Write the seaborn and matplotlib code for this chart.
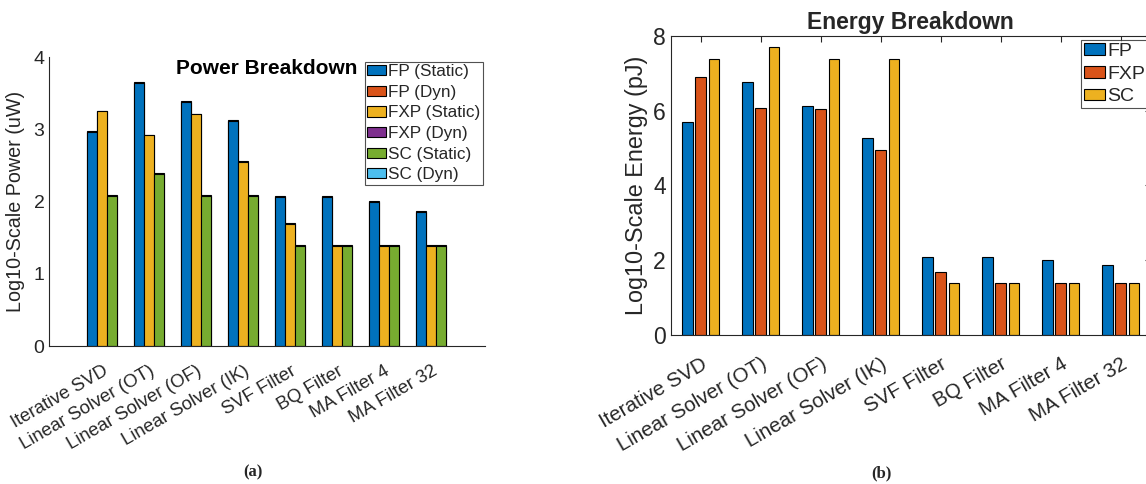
import matplotlib
matplotlib.use('Agg')
import matplotlib.pyplot as plt
from matplotlib.patches import Patch
import numpy as np
import pandas as pd
import seaborn as sns

benchmarks = ['Iterative SVD', 'Linear Solver (OT)', 'Linear Solver (OF)', 'Linear Solver (IK)',
              'SVF Filter', 'BQ Filter', 'MA Filter 4', 'MA Filter 32']
types = ['FP', 'FXP', 'SC']

# power (log10 uW), static part and the thin dynamic part stacked on top
fp_static = [2.97, 3.64, 3.38, 3.12, 2.07, 2.07, 1.99, 1.86]
fxp_static = [3.25, 2.92, 3.21, 2.55, 1.69, 1.39, 1.39, 1.39]
sc_static = [2.08, 2.38, 2.08, 2.08, 1.39, 1.39, 1.39, 1.39]
fp_dyn = [0.015, 0.015, 0.015, 0.015, 0.015, 0.015, 0.015, 0.015]
fxp_dyn = [0.01, 0.01, 0.01, 0.015, 0.008, 0.005, 0.005, 0.005]
sc_dyn = [0.012, 0.012, 0.008, 0.008, 0.005, 0.005, 0.005, 0.005]

# energy (log10 pJ)
fp_energy = [5.70, 6.77, 6.12, 5.27, 2.08, 2.08, 2.00, 1.87]
fxp_energy = [6.90, 6.06, 6.04, 4.95, 1.69, 1.39, 1.39, 1.39]
sc_energy = [7.39, 7.70, 7.39, 7.39, 1.39, 1.39, 1.39, 1.39]

# matlab default colours
c_blue, c_orange, c_yellow = '#0072BD', '#D95319', '#EDB120'
c_purple, c_green, c_cyan = '#7E2F8E', '#77AC30', '#4DBEEE'
axcol = '#262626'

sns.set_style('white')
plt.rcParams['font.family'] = ['Liberation Sans', 'DejaVu Sans']
plt.rcParams['xtick.direction'] = 'in'
plt.rcParams['ytick.direction'] = 'in'


def long_df(cols):
    rows = []
    for t, vals in zip(types, cols):
        for b, v in zip(benchmarks, vals):
            rows.append({'benchmark': b, 'type': t, 'value': v})
    return pd.DataFrame(rows)


static_df = long_df([fp_static, fxp_static, sc_static])
total_df = long_df([np.add(fp_static, fp_dyn), np.add(fxp_static, fxp_dyn), np.add(sc_static, sc_dyn)])
energy_df = long_df([fp_energy, fxp_energy, sc_energy])

fig = plt.figure(figsize=(11.46, 4.84), dpi=100)
ax1 = fig.add_axes([0.0430, 0.2851, 0.3802, 0.5965])
ax2 = fig.add_axes([0.5853, 0.3079, 0.4188, 0.6183])

### (a) power breakdown
sns.barplot(data=total_df, x='benchmark', y='value', hue='type', hue_order=types,
            palette=[c_orange, c_purple, c_cyan], saturation=1, width=0.64, gap=0,
            edgecolor='black', linewidth=0.8, errorbar=None, legend=False, ax=ax1)
sns.barplot(data=static_df, x='benchmark', y='value', hue='type', hue_order=types,
            palette=[c_blue, c_yellow, c_green], saturation=1, width=0.64, gap=0,
            edgecolor='black', linewidth=0.8, errorbar=None, legend=False, ax=ax1)
ax1.set_xlim(-1.13, 8.14)
ax1.set_ylim(0, 4)
ax1.set_yticks([0, 1, 2, 3, 4])
ax1.set_xlabel('')
ax1.set_ylabel('Log10-Scale Power (uW)', fontsize=14.2, color=axcol, labelpad=6)
ax1.tick_params(axis='y', labelsize=14, colors=axcol, length=4, width=0.8)
ax1.tick_params(axis='x', length=0, pad=12)
ax1.set_xticks(range(len(benchmarks)))
ax1.set_xticklabels(benchmarks, rotation=30, ha='right', rotation_mode='anchor',
                    fontsize=13.3, color=axcol)
for s in ['top', 'right']:
    ax1.spines[s].set_visible(False)
for s in ['left', 'bottom']:
    ax1.spines[s].set_color(axcol)
    ax1.spines[s].set_linewidth(0.8)
ax1.text(0.5, 0.962, 'Power Breakdown', transform=ax1.transAxes, ha='center', va='center',
         fontsize=15, fontweight='bold', color='black')

handles = []
for col, lab in zip([c_blue, c_orange, c_yellow, c_purple, c_green, c_cyan],
                    ['FP (Static)', 'FP (Dyn)', 'FXP (Static)', 'FXP (Dyn)', 'SC (Static)', 'SC (Dyn)']):
    handles.append(Patch(facecolor=col, edgecolor='black', linewidth=0.8, label=lab))
leg1 = ax1.legend(handles=handles, loc='upper right', bbox_to_anchor=(0.995, 0.985),
                  borderaxespad=0, fontsize=12.3, frameon=True, fancybox=False,
                  handlelength=1.1, handleheight=0.55, handletextpad=0.1,
                  labelspacing=0.33, borderpad=0.15)
leg1.get_frame().set_edgecolor(axcol)
leg1.get_frame().set_linewidth(0.8)

### (b) energy breakdown
sns.barplot(data=energy_df, x='benchmark', y='value', hue='type', hue_order=types,
            palette=[c_blue, c_orange, c_yellow], saturation=1, width=0.667, gap=0.2,
            edgecolor='black', linewidth=0.8, errorbar=None, ax=ax2)
ax2.set_xlim(-0.5, 7.5)
ax2.set_ylim(0, 8)
ax2.set_yticks([0, 2, 4, 6, 8])
ax2.set_xlabel('')
ax2.set_ylabel('Log10-Scale Energy (pJ)', fontsize=16.8, color=axcol, labelpad=4)
ax2.set_title('Energy Breakdown', fontsize=16.5, fontweight='bold', pad=5)
ax2.tick_params(axis='both', top=True, right=True, length=4, width=0.8, colors=axcol)
ax2.tick_params(axis='y', labelsize=16.5)
ax2.tick_params(axis='x', pad=14)
ax2.set_xticks(range(len(benchmarks)))
ax2.set_xticklabels(benchmarks, rotation=30, ha='right', rotation_mode='anchor',
                    fontsize=14.8, color=axcol)
for s in ax2.spines.values():
    s.set_color(axcol)
    s.set_linewidth(0.8)
leg2 = ax2.legend(loc='upper right', bbox_to_anchor=(0.994, 0.986), borderaxespad=0,
                  fontsize=14, frameon=True, fancybox=False, title=None,
                  handlelength=1.1, handleheight=0.55, handletextpad=0.1,
                  labelspacing=0.3, borderpad=0.15)
leg2.get_frame().set_edgecolor(axcol)
leg2.get_frame().set_linewidth(0.8)

fig.text(253 / 1146, 1 - 472 / 484, '(a)', ha='center', va='center', fontsize=12,
         fontweight='bold', family=['Liberation Serif', 'DejaVu Serif'])
fig.text(881 / 1146, 1 - 473 / 484, '(b)', ha='center', va='center', fontsize=12,
         fontweight='bold', family=['Liberation Serif', 'DejaVu Serif'])

fig.savefig('out.png', dpi=100)
